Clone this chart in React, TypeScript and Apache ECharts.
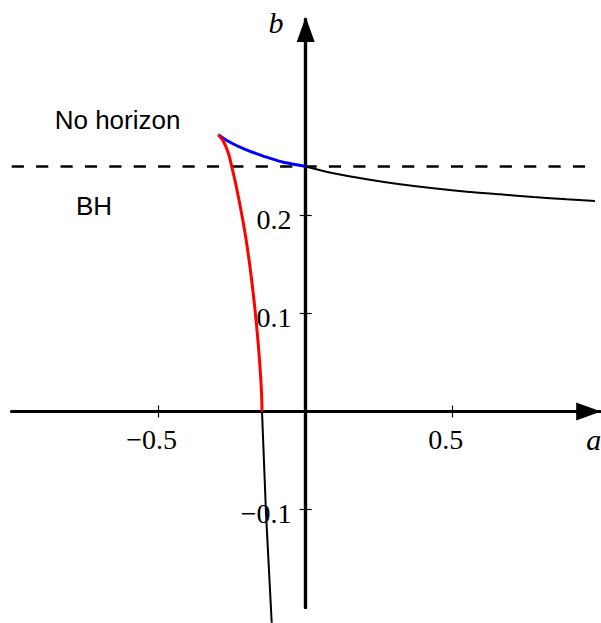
import React, { useEffect, useRef } from 'react';
import * as echarts from 'echarts';

// Axis ranges and ticks
const aRange = [-1, 1];
const bRange = [-0.2, 0.4];
const aTicks = [-0.5, 0.5];
const bTicks = [-0.1, 0.1, 0.2];
const axisNames = ['a', 'b'];

// Extremal line b = 1/4 (dashed)
const extremalB = 0.25;
const extremalA = [-1, 0.985];

// Curves: [a, b]
const blackRight = [
  [0, 0.25], [0.094, 0.2431], [0.2075, 0.2369], [0.3207, 0.2318], [0.434, 0.2278],
  [0.548, 0.2243], [0.661, 0.2216], [0.774, 0.2189], [0.888, 0.2165], [0.984, 0.2148],
];
const blueCurve = [
  [-0.297, 0.2824], [-0.275, 0.2778], [-0.246, 0.273], [-0.2235, 0.2697], [-0.189, 0.2655],
  [-0.155, 0.2618], [-0.133, 0.2595], [-0.076, 0.2543], [0, 0.25],
];
const redCurve = [
  [-0.2973, 0.2824], [-0.2803, 0.2757], [-0.2633, 0.2638], [-0.2517, 0.2502], [-0.24, 0.2349],
  [-0.2303, 0.2209], [-0.2197, 0.2046], [-0.2092, 0.1872], [-0.199, 0.1679], [-0.1881, 0.1444],
  [-0.1779, 0.1189], [-0.169, 0.0934], [-0.1612, 0.0679], [-0.1548, 0.0423], [-0.1507, 0.0219],
  [-0.1486, 0],
];
const blackLower = [[-0.1486, 0], [-0.135, -0.104], [-0.1156, -0.2155]];

// Region annotations
const regionNames = ['No horizon', 'BH'];
const regionPos = [[-0.64, 0.2974], [-0.72, 0.2102]];

const fmt = (v: number) => (v < 0 ? '\u2212' + String(Math.abs(v)) : String(v));

export default function App() {
  const ref = useRef<HTMLDivElement>(null);
  useEffect(() => {
    if (!ref.current) return;
    const chart = echarts.init(ref.current, undefined, { renderer: 'svg' });
    const axisLineStyle = { color: '#000', width: 3.2 };
    const tickStyle = { color: '#000', width: 1.2 };
    const labelFont = { fontFamily: 'Liberation Serif', fontSize: 28, color: '#000' };
    const nameFont = { fontFamily: 'Liberation Serif', fontStyle: 'italic', fontSize: 30, color: '#000' };
    const hiddenDot = { color: 'rgba(0,0,0,0)', opacity: 1 };
    const textSeries = (data: any[], label: any) => ({
      type: 'scatter', symbolSize: 1, itemStyle: hiddenDot, silent: true, clip: false,
      emphasis: { disabled: true }, z: 5,
      data, label: { show: true, formatter: (p: any) => p.name, ...label },
    });
    const axis = (min: number, max: number, pos: string, ticks: number[], inside: boolean, arrowOffset: number | null) => ({
      type: 'value', min, max, position: pos,
      axisLine: {
        show: true, onZero: true, onZeroAxisIndex: 0, lineStyle: axisLineStyle,
        ...(arrowOffset !== null
          ? { symbol: ['none', 'triangle'], symbolSize: [18, 25], symbolOffset: [0, arrowOffset] }
          : {}),
      },
      axisTick: { show: true, inside, customValues: ticks, length: 6, lineStyle: tickStyle },
      axisLabel: { show: false },
      splitLine: { show: false },
    });
    const option: any = {
      animation: false,
      grid: { left: 11.7, right: 1.3, top: 19.5, bottom: 15.5, containLabel: false, outerBoundsMode: 'none' },
      xAxis: [
        axis(aRange[0], aRange[1], 'bottom', aTicks, false, -11),
        axis(aRange[0], aRange[1], 'bottom', aTicks, true, null),
      ],
      yAxis: [
        axis(bRange[0], bRange[1], 'left', bTicks, false, -10),
        axis(bRange[0], bRange[1], 'left', bTicks, true, null),
      ],
      series: [
        {
          type: 'line', name: 'extremal', data: extremalA.map((a) => [a, extremalB]),
          symbol: 'none', lineStyle: { color: '#000', width: 2.4, type: [12.2, 12.2] },
          silent: true,
        },
        {
          type: 'line', name: 'right', data: blackRight, symbol: 'none', smooth: 0.3,
          lineStyle: { color: '#000', width: 2 }, silent: true,
        },
        {
          type: 'line', name: 'lower', data: blackLower, symbol: 'none', clip: false,
          lineStyle: { color: '#000', width: 2 }, silent: true,
        },
        {
          type: 'line', name: 'blue', data: blueCurve, symbol: 'none', smooth: 0.3,
          lineStyle: { color: '#0000ff', width: 3 }, silent: true,
        },
        {
          type: 'line', name: 'red', data: redCurve, symbol: 'none', smooth: 0.4,
          lineStyle: { color: '#ff0000', width: 3 }, silent: true,
        },
        // region annotations
        textSeries(
          regionNames.map((n, i) => ({ name: n, value: regionPos[i] })),
          { position: 'inside', fontFamily: 'Liberation Sans', fontSize: 26, color: '#000' },
        ),
        // a-axis tick labels
        textSeries(
          aTicks.map((t) => ({ name: fmt(t), value: [t, 0] })),
          { position: 'inside', offset: [-7, 27.5], ...labelFont },
        ),
        // b-axis tick labels
        textSeries(
          bTicks.map((t) => ({ name: fmt(t), value: [0, t] })),
          { position: 'left', distance: 13.7, offset: [0, 4], ...labelFont },
        ),
        // axis names
        textSeries(
          [{ name: axisNames[0], value: [aRange[1], 0] }],
          { position: 'inside', offset: [-6, 28], ...nameFont },
        ),
        textSeries(
          [{ name: axisNames[1], value: [0, bRange[1]] }],
          { position: 'inside', offset: [-29.7, 3], ...nameFont },
        ),
      ],
    };
    chart.setOption(option);
    return () => chart.dispose();
  }, []);
  return <div ref={ref} style={{ position: 'absolute', left: 0, top: 0, width: 601, height: 623 }} />;
}
